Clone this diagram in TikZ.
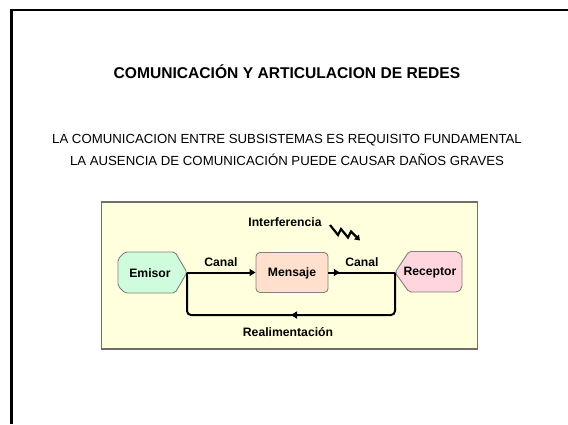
\documentclass[tikz,border=0pt]{standalone}
\usepackage{fontspec}
\setmainfont{Liberation Sans}
\usetikzlibrary{arrows.meta,decorations.markings}
\definecolor{panelbg}{RGB}{255,255,221}
\definecolor{panelbd}{RGB}{110,110,110}
\definecolor{emisorfill}{RGB}{208,252,222}
\definecolor{mensajefill}{RGB}{255,224,204}
\definecolor{receptorfill}{RGB}{255,214,222}
\definecolor{shapebd}{RGB}{128,128,128}
\tikzset{
  frameline/.style={line width=2.5pt,black},
  shapebox/.style={draw=shapebd,line width=0.9pt,rounded corners=2pt},
  lbl/.style={font=\bfseries\fontsize{12.2}{14}\selectfont,inner sep=0pt},
  conn/.style={line width=2pt,black},
  tip/.style={-{Triangle[length=6pt,width=7pt]}},
  midtip/.style={postaction={decorate},decoration={markings,mark=at position #1 with {\arrow{Triangle[length=6pt,width=7pt]}}}}
}
\begin{document}
\begin{tikzpicture}[x=1pt,y=-1pt]
\useasboundingbox (0,0) rectangle (568,424);
\fill[white] (0,0) rectangle (568,424);
\draw[frameline] (568,10) -- (11.5,10) -- (11.5,424);
% texts
\node[font=\bfseries\fontsize{15.6}{18}\selectfont] (title) at (287,72) {COMUNICACIÓN Y ARTICULACION DE REDES};
\node[font=\fontsize{13.2}{15}\selectfont] (l1) at (287,140) {LA COMUNICACION ENTRE SUBSISTEMAS ES REQUISITO FUNDAMENTAL};
\node[font=\fontsize{13.2}{15}\selectfont] (l2) at (287,160) {LA AUSENCIA DE COMUNICACIÓN PUEDE CAUSAR DAÑOS GRAVES};
% panel
\draw[fill=panelbg,draw=panelbd,line width=1.2pt] (101.5,202) rectangle (477.5,349);
% Emisor
\draw[shapebox,fill=emisorfill] (118,259) -- (125,252) -- (175,252) -- (187,272.5) -- (175,293) -- (125,293) -- (118,286) -- cycle;
\node[lbl] (e) at (150,273) {Emisor};
\coordinate (ep) at (187,272.5);
% Mensaje
\node[draw=shapebd,line width=0.9pt,rounded corners=4pt,fill=mensajefill,minimum width=72pt,minimum height=40pt,inner sep=0pt] (m) at (292,272.5) {};
\node[lbl] (mt) at (292,273) {Mensaje};
% Receptor
\draw[shapebox,fill=receptorfill] (395,272.5) -- (409,251.5) -- (458,251.5) -- (462,256) -- (462,288) -- (458,292) -- (409,292) -- cycle;
\node[lbl] (r) at (430,273) {Receptor};
\coordinate (rp) at (395,272.5);
% connectors
\draw[conn,tip] (ep) -- (m.west);
\draw[conn,midtip=0.17] (m.east) -- (rp);
\coordinate (fbr) at (395,315);
\coordinate (fbl) at (187,315);
\draw[conn,rounded corners=4pt,midtip=0.5] (rp) -- (fbr) -- (fbl) -- (ep);
\node[lbl] (c1) at (221,262) {Canal};
\node[lbl] (c2) at (362,262) {Canal};
\node[lbl] (fb) at (288,332) {Realimentación};
\node[lbl] (int) at (285,222) {Interferencia};
% lightning
\draw[line width=2.2pt,miter limit=10,-{Triangle[length=5pt,width=6.5pt]}] (330,225) -- (338,235) -- (341,229) -- (348,237.5) -- (351,231.5) -- (360,240.5);
\end{tikzpicture}
\end{document}
